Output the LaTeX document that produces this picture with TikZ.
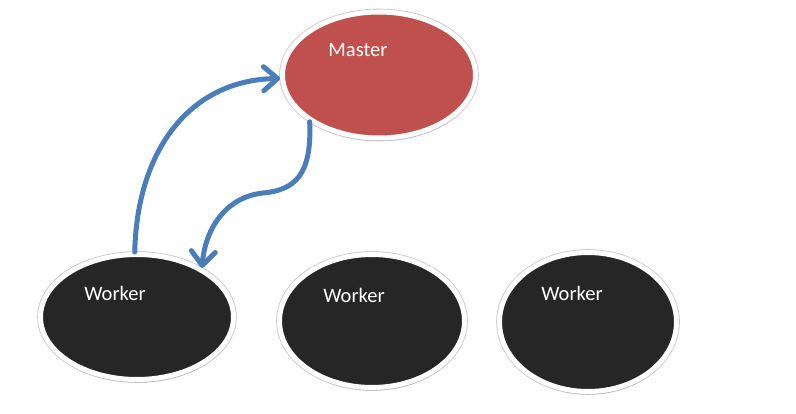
\documentclass[tikz,border=0pt]{standalone}
\usepackage{fontspec}
\setmainfont{Carlito}
\usetikzlibrary{shapes.geometric,arrows.meta,shadows}
\definecolor{mred}{HTML}{C0504D}
\definecolor{wblack}{HTML}{262626}
\definecolor{ablue}{HTML}{4A7EBB}
\tikzset{
  blob/.style={ellipse, draw=white, line width=5pt, inner sep=0pt,
    preaction={draw=black!22, line width=6.6pt},
    drop shadow={shadow xshift=0.5pt, shadow yshift=-3pt, fill=black!40, opacity=0.5}},
  lbl/.style={text=white, font=\fontsize{20.5}{24}\selectfont, inner sep=0pt},
  conn/.style={draw=ablue, line width=5pt, line cap=round,
    -{Straight Barb[length=14pt, width=24pt, line width=5pt, line cap=round, round]}}
}
\begin{document}
\begin{tikzpicture}[x=1pt,y=-1pt]
\useasboundingbox[fill=white] (0,0) rectangle (796,414);
\node[blob, fill=mred, minimum width=193pt, minimum height=126pt] (master) at (379,75) {};
\node[blob, fill=wblack, minimum width=193pt, minimum height=125pt] (w1) at (137,317) {};
\node[blob, fill=wblack, minimum width=185pt, minimum height=133pt] (w2) at (372,321) {};
\node[blob, fill=wblack, minimum width=177pt, minimum height=139pt] (w3) at (588,322) {};
\node[lbl] (tm) at (358,50) {Master};
\node[lbl] (t1) at (115,293) {Worker};
\node[lbl] (t2) at (354,295) {Worker};
\node[lbl] (t3) at (572,293) {Worker};
\draw[conn] (w1.92) .. controls (137,150) and (190,80) .. (master.182);
\draw[conn] (master.214) .. controls (312,175) and (295,190) .. (263,193)
  .. controls (225,197) and (205,230) .. (w1.37);
\end{tikzpicture}
\end{document}
